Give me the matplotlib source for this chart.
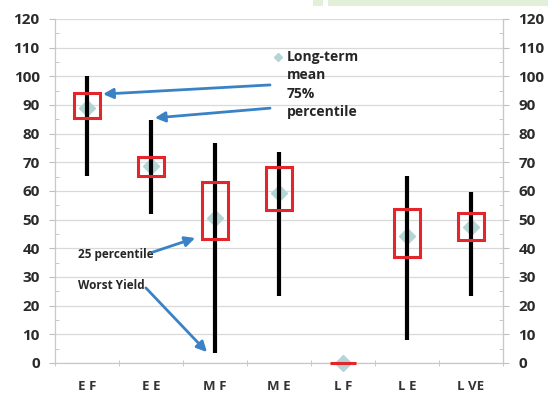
import matplotlib
matplotlib.use("Agg")
import matplotlib.pyplot as plt
from matplotlib.patches import Rectangle
from matplotlib.ticker import MultipleLocator

categories = ["E F", "E E", "M F", "M E", "L F", "L E", "L VE"]
worst = [65.3, 52.0, 3.5, 23.3, 0.0, 8.0, 23.3]
best = [100.0, 84.8, 76.8, 73.5, 0.0, 65.3, 59.5]
p25 = [85.3, 65.3, 43.1, 53.5, 0.0, 37.0, 42.9]
p75 = [94.3, 72.0, 63.0, 68.2, 0.0, 53.7, 52.4]
means = [88.8, 68.7, 50.5, 59.2, 0.0, 44.3, 47.3]
yticks = [0, 10, 20, 30, 40, 50, 60, 70, 80, 90, 100, 110, 120]

FONT = "Open Sans"
W, H = 548, 397
fig = plt.figure(figsize=(W / 100, H / 100), dpi=100)
ax = fig.add_axes([55 / W, 34 / H, (503 - 55) / W, (378 - 34) / H])

# green band decoration at top
fig.patches.append(Rectangle((313 / W, 1 - 6 / H), 10 / W, 6 / H, transform=fig.transFigure,
                             facecolor="#e2efd9", edgecolor="none"))
fig.patches.append(Rectangle((328 / W, 1 - 6 / H), 220 / W, 6 / H, transform=fig.transFigure,
                             facecolor="#e2efd9", edgecolor="none"))

x = list(range(len(categories)))
teal = "#b3d5d6"
red = "#e3262b"
blue = "#3a82c6"
ax.plot(x, means, linestyle="none", marker="D", ms=8, color=teal, mec=teal, zorder=3, clip_on=False)
ax.vlines(x, worst, best, colors="black", linewidth=3, zorder=4)
heights = [b - a for a, b in zip(p25, p75)]
ax.bar(x, heights, bottom=p25, width=0.42, fill=False, edgecolor=red, linewidth=2.2, zorder=5,
       clip_on=False)

ax.set_xlim(-0.5, len(categories) - 0.5)
ax.set_ylim(0, 120)
ax.set_yticks(yticks)
ax.yaxis.set_minor_locator(MultipleLocator(5))
ax.grid(axis="y", which="major", color="#d9d9d9", linewidth=0.9, zorder=0)
ax.set_axisbelow(True)
ax.set_xticks(x)
ax.set_xticklabels(categories, fontfamily=FONT, fontweight="bold", fontsize=9.5, color="#333333")
ax.set_xticks([i - 0.5 for i in range(len(categories) + 1)], minor=True)
ax.tick_params(axis="x", which="major", length=0, pad=12)
ax.tick_params(axis="x", which="minor", length=4, direction="inout", color="#bfbfbf")
ax.tick_params(axis="y", which="major", length=4, direction="out", color="#bfbfbf", pad=7,
               labelsize=11, labelcolor="#2b2b2b")
ax.tick_params(axis="y", which="minor", length=3, direction="in", color="#bfbfbf")
for lab in ax.get_yticklabels():
    lab.set_fontweight("bold"); lab.set_fontfamily(FONT)
for s in ["top"]:
    ax.spines[s].set_visible(False)
for s in ["left", "right", "bottom"]:
    ax.spines[s].set_color("#c8c8c8")
    ax.spines[s].set_linewidth(0.9)

ax2 = ax.twinx()
ax2.set_ylim(0, 120)
ax2.set_yticks(yticks)
ax2.yaxis.set_minor_locator(MultipleLocator(5))
ax2.tick_params(axis="y", which="major", length=4, direction="out", color="#bfbfbf", pad=7,
                labelsize=11, labelcolor="#2b2b2b")
ax2.tick_params(axis="y", which="minor", length=3, direction="in", color="#bfbfbf")
for lab in ax2.get_yticklabels():
    lab.set_fontweight("bold"); lab.set_fontfamily(FONT)
for s in ["top", "left", "bottom"]:
    ax2.spines[s].set_visible(False)
ax2.spines["right"].set_color("#c8c8c8")

tk = dict(fontfamily=FONT, fontweight="bold", color="#262626", va="center", ha="left")
ax.plot([2.98], [106.7], linestyle="none", marker="D", ms=4, color=teal, clip_on=False)
ax.text(3.125, 106.7, "Long-term", fontsize=10, **tk)
ax.text(3.125, 100.5, "mean", fontsize=10, **tk)
ax.text(3.125, 93.7, "75%", fontsize=10, **tk)
ax.text(3.125, 87.5, "percentile", fontsize=10, **tk)
ax.text(-0.14, 37.7, "25 percentile", fontsize=8.5, **tk)
ax.text(-0.14, 27.2, "Worst Yield", fontsize=8.5, **tk)

ap = dict(arrowstyle="-|>,head_length=0.6,head_width=0.3", color=blue, lw=2, shrinkA=0, shrinkB=0)
ax.annotate("", xy=(0.25, 93.8), xytext=(2.86, 97.0), arrowprops=ap)
ax.annotate("", xy=(1.06, 85.5), xytext=(2.86, 88.9), arrowprops=ap)
ax.annotate("", xy=(1.69, 43.6), xytext=(1.03, 38.7), arrowprops=ap)
ax.annotate("", xy=(1.875, 3.8), xytext=(0.92, 26.2), arrowprops=ap)

fig.savefig("out.png", dpi=100)
